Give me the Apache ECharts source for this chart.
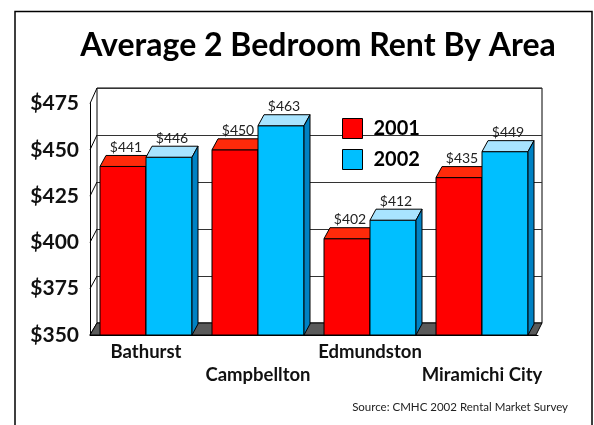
<!DOCTYPE html>
<html>
<head>
<meta charset="utf-8">
<script src="https://cdn.jsdelivr.net/npm/echarts@6/dist/echarts.min.js"></script>
<style>
  html, body { margin: 0; padding: 0; background: #fff; }
  #chart { width: 594px; height: 425px; }
</style>
</head>
<body>
<div id="chart"></div>
<script>
    var areas = ['Bathurst', 'Campbellton', 'Edmundston', 'Miramichi City'];
    var rent2001 = [441, 450, 402, 435];
    var rent2002 = [446, 463, 412, 449];
    var yTicks = [350, 375, 400, 425, 450, 475];

    // front plane and back wall of the fake 3d box
    var F = {left: 90, top: 103.5, width: 448, height: 231.5};
    var B = {left: 97, top: 88, width: 445, height: 235};
    var barW = 46, dx = 6, dy = -11;

    function backY(yf) {
        var t = (yf - F.top) / F.height;
        return B.top + t * B.height;
    }

    function barItem(offset, front, top, side) {
        return function (params, api) {
            var cat = api.value(0), v = api.value(1);
            var p = api.coord([cat, v]);
            var b = api.coord([cat, 350]);
            var x0 = p[0] + offset, y = p[1], yb = b[1];
            return {
                type: 'group',
                children: [
                    {type: 'rect', shape: {x: x0, y: y, width: barW, height: yb - y},
                        style: {fill: front, stroke: '#000', lineWidth: 1}},
                    {type: 'polygon', shape: {points: [[x0, y], [x0 + barW, y], [x0 + barW + dx, y + dy], [x0 + dx, y + dy]]},
                        style: {fill: top, stroke: '#000', lineWidth: 1}},
                    {type: 'polygon', shape: {points: [[x0 + barW, y], [x0 + barW + dx, y + dy], [x0 + barW + dx, yb + dy], [x0 + barW, yb]]},
                        style: {fill: side, stroke: '#000', lineWidth: 1}},
                    {type: 'text', style: {text: '$' + v, x: x0 + barW / 2 + dx / 2, y: y + dy - 1,
                        align: 'center', verticalAlign: 'bottom', fill: '#222',
                        font: '14px Lato'}}
                ]
            };
        };
    }

    var myChart = echarts.init(document.getElementById('chart'));
    var option = {
        backgroundColor: '#fff',
        animation: false,
        graphic: [
            {type: 'rect', shape: {x: 15, y: 11.5, width: 577, height: 440},
                style: {fill: 'none', stroke: '#000', lineWidth: 1.5}, z: 0},
            {type: 'text', style: {text: 'Average 2 Bedroom Rent By Area', x: 318, y: 46,
                align: 'center', verticalAlign: 'middle', fill: '#000',
                font: 'bold 32px Lato'}},
            {type: 'text', style: {text: 'Source: CMHC 2002 Rental Market Survey', x: 568, y: 407,
                align: 'right', verticalAlign: 'middle', fill: '#222',
                font: '11.5px Lato'}}
        ],
        legend: {
            orient: 'vertical',
            left: 337,
            top: 113,
            itemWidth: 20,
            itemHeight: 20,
            itemGap: 10,
            icon: 'rect',
            textStyle: {fontFamily: 'Lato', fontWeight: 'bold', fontSize: 20, color: '#000', padding: [0, 0, 0, 6]},
            data: [
                {name: '2001', itemStyle: {color: '#ff0000', borderColor: '#000', borderWidth: 1}},
                {name: '2002', itemStyle: {color: '#00bfff', borderColor: '#000', borderWidth: 1}}
            ]
        },
        grid: [
            {left: F.left, top: F.top, width: F.width, height: F.height},
            {left: B.left, top: B.top, width: B.width, height: B.height, show: true,
                borderColor: '#000', borderWidth: 1, backgroundColor: '#fff', z: 0}
        ],
        xAxis: [
            {
                type: 'category',
                gridIndex: 0,
                data: areas,
                axisLine: {show: true, lineStyle: {color: '#000', width: 1}},
                axisTick: {show: false},
                axisLabel: {
                    margin: 6,
                    interval: 0,
                    fontFamily: 'Lato', fontWeight: 'bold', fontSize: 18.5, color: '#111',
                    lineHeight: 23,
                    formatter: function (v, i) { return i % 2 ? '\n' + v : v; }
                },
                z: 3
            },
            {type: 'category', gridIndex: 1, data: areas, show: false}
        ],
        yAxis: [
            {
                type: 'value', gridIndex: 0, min: 350, max: 475, interval: 25,
                axisLine: {show: true, lineStyle: {color: '#000', width: 1}},
                axisTick: {show: false},
                splitLine: {show: false},
                axisLabel: {
                    margin: 11,
                    fontFamily: 'Lato', fontWeight: 'bold', fontSize: 21, color: '#111',
                    formatter: function (v) { return '$' + v; }
                },
                z: 3
            },
            {
                type: 'value', gridIndex: 1, min: 350, max: 475, interval: 25,
                axisLine: {show: false}, axisTick: {show: false}, axisLabel: {show: false},
                splitLine: {show: true, lineStyle: {color: '#333', width: 1}}
            }
        ],
        series: [
            {
                // floor and left-wall tick diagonals
                type: 'custom',
                xAxisIndex: 0, yAxisIndex: 0,
                silent: true,
                data: yTicks,
                z: 1,
                renderItem: function (params, api) {
                    var v = api.value(0);
                    var p = api.coord([0, v]);
                    var fy = p[1];
                    var kids = [{type: 'line', shape: {x1: F.left, y1: fy, x2: B.left, y2: backY(fy)},
                        style: {stroke: '#000', lineWidth: 1}}];
                    if (v === 350) {
                        var fb = F.top + F.height, bb = B.top + B.height;
                        kids.push({type: 'polygon', shape: {points: [[F.left, fb], [F.left + F.width - 2, fb],
                            [B.left + B.width, bb], [B.left, bb]]},
                            style: {fill: '#5a5a5a', stroke: '#000', lineWidth: 1}});
                    }
                    return {type: 'group', children: kids};
                },
                encode: {y: 0}
            },
            {
                name: '2001', type: 'custom', xAxisIndex: 0, yAxisIndex: 0, z: 2,
                itemStyle: {color: '#ff0000'},
                data: rent2001.map(function (v, i) { return [i, v]; }),
                renderItem: barItem(-barW, '#ff0000', '#ff2a0a', '#b00000')
            },
            {
                name: '2002', type: 'custom', xAxisIndex: 0, yAxisIndex: 0, z: 2,
                itemStyle: {color: '#00bfff'},
                data: rent2002.map(function (v, i) { return [i, v]; }),
                renderItem: barItem(0, '#00bfff', '#a8e4ff', '#0082c4')
            }
        ]
    };
    myChart.setOption(option);
</script>
</body>
</html>
